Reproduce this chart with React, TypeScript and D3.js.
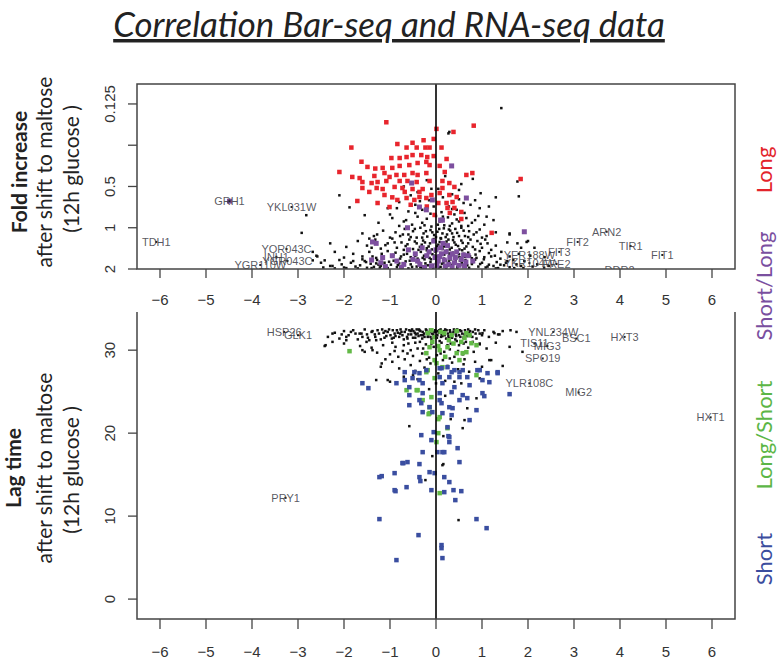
import React from "react";
import * as d3 from "d3";

// ---------- data ----------
const xTicks = [-6, -5, -4, -3, -2, -1, 0, 1, 2, 3, 4, 5, 6];
const topTicks = [0.125, 0.25, 0.5, 1, 2];
const topTickLabels = ["0.125", "", "0.5", "1", "2"];
const botTicks = [0, 10, 20, 30];
const botTickLabels = ["0", "10", "20", "30"];

// top panel: [log2 fold change, fold increase]
const topBlack: [number, number][] = [
  [1.42, 0.134], [0.29, 0.2], [0.27, 0.205], [1.77, 0.46], [1.8, 0.59], [0.97, 0.56], [1.1, 0.83],
  [-2.92, 1.09], [-2.82, 0.81], [-2.1, 0.58], [-1.88, 0.71], [-1.55, 0.81], [-2.68, 1.5], [-2.58, 1.62],
  [-2.42, 1.73], [-2.25, 1.9], [-2.68, 1.73], [1.97, 1.27], [2.14, 1.4], [2.36, 1.64], [1.92, 1.75],
  [1.6, 1.1], [1.77, 1.3],
  [-2.45, 1.95], [-2.3, 1.9], [-2.2, 1.98], [-2.05, 1.85], [-1.95, 1.97], [-1.85, 1.8], [-1.75, 1.92],
  [-1.65, 1.88], [-1.55, 1.75], [-1.5, 1.96], [-1.42, 1.83], [-1.35, 1.93], [-1.28, 1.72], [-1.2, 1.9],
  [-1.12, 1.8], [-1.05, 1.97], [-0.98, 1.86], [-0.92, 1.74], [-0.85, 1.94], [-0.8, 1.82], [-0.72, 1.9],
  [-0.66, 1.76], [-0.6, 1.98], [-0.55, 1.85], [-0.48, 1.72], [-0.42, 1.92], [-0.36, 1.8], [-0.3, 1.95],
  [-0.25, 1.7], [-0.18, 1.88], [-0.12, 1.78], [-0.06, 1.96], [0.0, 1.84], [0.05, 1.73], [0.1, 1.93],
  [0.16, 1.8], [0.22, 1.97], [0.28, 1.76], [0.33, 1.89], [0.4, 1.82], [0.46, 1.95], [0.52, 1.74],
  [0.58, 1.87], [0.65, 1.79], [0.72, 1.96], [0.78, 1.84], [0.85, 1.71], [0.92, 1.92], [1.0, 1.8],
  [1.08, 1.95], [1.15, 1.86], [1.25, 1.9], [1.35, 1.97], [1.48, 1.88], [1.6, 1.94], [1.75, 1.85],
  [1.9, 1.97], [2.1, 1.92], [2.35, 1.96],
  [-2.6, 1.6], [-2.2, 1.5], [-2.0, 1.65], [-1.8, 1.55], [-1.6, 1.62], [-1.45, 1.5], [-1.3, 1.66],
  [-1.18, 1.55], [-1.05, 1.48], [-0.95, 1.63], [-0.88, 1.52], [-0.78, 1.68], [-0.7, 1.57], [-0.62, 1.47],
  [-0.55, 1.64], [-0.47, 1.55], [-0.4, 1.68], [-0.33, 1.5], [-0.26, 1.6], [-0.2, 1.46], [-0.14, 1.66],
  [-0.08, 1.56], [-0.02, 1.49], [0.04, 1.62], [0.1, 1.53], [0.17, 1.68], [0.24, 1.47], [0.3, 1.6],
  [0.37, 1.52], [0.44, 1.66], [0.5, 1.56], [0.57, 1.46], [0.63, 1.63], [0.7, 1.52], [0.78, 1.67],
  [0.86, 1.57], [0.95, 1.48], [1.05, 1.64], [1.15, 1.53], [1.28, 1.6], [1.42, 1.5], [1.6, 1.62],
  [1.8, 1.55], [2.05, 1.6],
  [-2.3, 1.3], [-1.95, 1.38], [-1.7, 1.25], [-1.5, 1.35], [-1.32, 1.22], [-1.2, 1.42], [-1.05, 1.3],
  [-0.95, 1.2], [-0.85, 1.4], [-0.75, 1.28], [-0.66, 1.36], [-0.58, 1.22], [-0.5, 1.43], [-0.42, 1.3],
  [-0.35, 1.38], [-0.28, 1.24], [-0.2, 1.41], [-0.13, 1.3], [-0.05, 1.21], [0.02, 1.37], [0.08, 1.27],
  [0.14, 1.43], [0.2, 1.32], [0.27, 1.22], [0.34, 1.4], [0.4, 1.28], [0.48, 1.36], [0.55, 1.24],
  [0.62, 1.42], [0.7, 1.3], [0.8, 1.38], [0.9, 1.25], [1.0, 1.4], [1.12, 1.3], [1.3, 1.35],
  [1.55, 1.28], [1.85, 1.4], [2.0, 1.25],
  [-1.6, 1.1], [-1.35, 1.15], [-1.15, 1.05], [-1.0, 1.18], [-0.88, 1.08], [-0.78, 1.15], [-0.68, 1.02],
  [-0.6, 1.12], [-0.5, 1.06], [-0.42, 1.18], [-0.34, 1.0], [-0.27, 1.1], [-0.19, 1.16], [-0.12, 1.04],
  [-0.04, 1.13], [0.03, 1.07], [0.1, 1.19], [0.17, 1.01], [0.24, 1.12], [0.31, 1.05], [0.38, 1.17],
  [0.46, 1.09], [0.55, 1.0], [0.63, 1.15], [0.72, 1.06], [0.82, 1.12], [0.95, 1.03], [1.1, 1.15],
  [1.3, 1.08], [1.6, 1.12],
  [-1.25, 0.92], [-0.95, 0.85], [-0.8, 0.97], [-0.65, 0.88], [-0.52, 0.95], [-0.4, 0.83], [-0.3, 0.92],
  [-0.2, 0.86], [-0.1, 0.98], [0.0, 0.82], [0.08, 0.9], [0.18, 0.96], [0.26, 0.84], [0.35, 0.93],
  [0.45, 0.87], [0.55, 0.97], [0.66, 0.85], [0.78, 0.92], [0.92, 0.82], [1.05, 0.95], [1.25, 0.88],
  [-1.05, 0.72], [-0.8, 0.65], [-0.6, 0.76], [-0.45, 0.68], [-0.3, 0.74], [-0.15, 0.63], [-0.05, 0.7],
  [0.12, 0.77], [0.22, 0.66], [0.35, 0.73], [0.5, 0.62], [0.62, 0.78], [0.75, 0.68], [0.95, 0.72],
  [0.6, 0.66], [-0.7, 0.5], [-0.4, 0.55], [-0.2, 0.45], [0.05, 0.52], [0.2, 0.42], [0.35, 0.57],
  [0.55, 0.48], [0.8, 0.44],
  [-1.52, 1.78], [-1.38, 1.62], [-1.25, 1.86], [-1.15, 1.68], [-1.02, 1.77], [-0.93, 1.58], [-0.83, 1.87],
  [-0.76, 1.62], [-0.69, 1.83], [-0.63, 1.55], [-0.57, 1.74], [-0.52, 1.93], [-0.45, 1.6], [-0.39, 1.78],
  [-0.34, 1.94], [-0.29, 1.66], [-0.23, 1.82], [-0.17, 1.52], [-0.11, 1.7], [-0.07, 1.87], [-0.03, 1.6],
  [0.01, 1.76], [0.06, 1.95], [0.09, 1.64], [0.13, 1.83], [0.18, 1.57], [0.21, 1.74], [0.25, 1.9],
  [0.29, 1.54], [0.32, 1.7], [0.36, 1.86], [0.39, 1.6], [0.43, 1.76], [0.47, 1.92], [0.51, 1.64],
  [0.56, 1.8], [0.6, 1.55], [0.64, 1.72], [0.68, 1.88], [0.74, 1.62], [0.8, 1.78], [0.88, 1.66],
  [0.96, 1.84], [1.04, 1.7], [1.12, 1.92], [1.2, 1.62], [1.32, 1.78], [1.4, 1.68], [1.52, 1.8],
  [1.68, 1.72],
  [-1.4, 1.4], [-1.1, 1.34], [-0.9, 1.28], [-0.7, 1.45], [-0.62, 1.32], [-0.46, 1.26], [-0.38, 1.45],
  [-0.31, 1.33], [-0.24, 1.28], [-0.16, 1.37], [-0.09, 1.44], [-0.01, 1.26], [0.05, 1.33], [0.11, 1.2],
  [0.17, 1.37], [0.23, 1.26], [0.3, 1.44], [0.37, 1.23], [0.43, 1.33], [0.51, 1.44], [0.58, 1.29],
  [0.66, 1.37], [0.75, 1.22], [0.85, 1.44], [0.97, 1.31], [1.07, 1.22], [1.2, 1.45], [-1.45, 1.2],
  [-1.28, 1.12], [-0.72, 1.12], [-0.55, 1.17], [-0.46, 1.02], [-0.3, 1.18], [-0.22, 1.06], [-0.08, 1.08],
  [0.0, 1.17], [0.07, 1.02], [0.14, 1.1], [0.21, 1.17], [0.28, 1.03], [0.35, 1.1], [0.42, 1.02],
  [0.5, 1.15], [0.6, 1.05], [0.7, 1.17], [0.88, 1.08], [1.0, 1.18],
  [-1.8, 1.75], [-1.7, 1.98], [-1.6, 1.7], [-1.4, 1.97], [-1.3, 1.82], [-1.22, 1.95], [-2.1, 1.72],
  [-2.5, 1.8], [-2.0, 1.95], [1.3, 1.98], [1.4, 1.86], [1.55, 1.75], [1.7, 1.97], [1.85, 1.9],
  [2.2, 1.85], [2.45, 1.9],
  [-1.0, 0.8], [-0.7, 0.9], [-0.45, 0.78], [-0.25, 0.96], [-0.12, 0.79], [0.04, 0.95], [0.15, 0.83],
  [0.3, 0.97], [0.4, 0.8], [0.5, 0.9], [0.7, 0.97], [0.85, 0.88], [-0.85, 0.72], [-0.35, 0.64],
  [0.28, 0.7], [0.45, 0.74], [0.85, 0.63], [-0.55, 0.58], [0.15, 0.6], [-0.1, 0.52], [0.5, 0.53],
  [1.15, 0.7], [1.3, 0.6],
];

const topRed: [number, number][] = [
  [-1.08, 0.17], [0.82, 0.18], [0.01, 0.19], [0.38, 0.2], [-1.84, 0.26], [-0.84, 0.245], [-0.51, 0.24],
  [-0.27, 0.23], [-0.05, 0.225], [-0.64, 0.26], [-0.42, 0.26], [-0.23, 0.26], [-0.14, 0.26], [0.12, 0.26],
  [-0.32, 0.295], [-0.19, 0.305], [-0.05, 0.3], [-0.97, 0.31], [-0.79, 0.31], [-0.64, 0.305], [-0.51, 0.295],
  [0.23, 0.315], [-1.62, 0.33], [-1.49, 0.36], [-1.32, 0.37], [-1.16, 0.366], [-0.95, 0.366], [-0.79, 0.354],
  [-0.58, 0.349], [-0.4, 0.337], [-0.21, 0.331], [-0.14, 0.349], [0.08, 0.354], [0.19, 0.392], [-2.1, 0.392],
  [-1.82, 0.426], [-1.66, 0.434], [-1.34, 0.419], [-1.12, 0.399], [-1.01, 0.426], [-0.86, 0.412], [-0.69, 0.412],
  [-0.51, 0.399], [-0.4, 0.412], [-0.21, 0.399], [0.66, 0.412], [0.79, 0.399], [1.84, 0.441], [-1.6, 0.464],
  [-1.4, 0.472], [-1.27, 0.464], [-1.08, 0.456], [-0.79, 0.456], [-0.62, 0.456], [-0.42, 0.464], [-0.14, 0.456],
  [0.14, 0.456], [0.29, 0.472], [-1.6, 0.513], [-1.29, 0.513], [-1.16, 0.522], [-0.9, 0.504], [-0.73, 0.513],
  [-0.51, 0.522], [-0.29, 0.522], [0.14, 0.513], [0.4, 0.504], [-1.71, 0.638], [-1.27, 0.66], [-1.01, 0.706],
  [-0.84, 0.627], [-0.64, 0.607], [-0.47, 0.627], [-0.36, 0.597], [-0.21, 0.607], [-0.1, 0.577], [-0.03, 0.807],
  [0.23, 0.66], [0.25, 0.717], [0.36, 0.649], [0.4, 0.717], [0.55, 0.767], [0.55, 0.863], [1.21, 1.09],
  [0.45, 0.597], [-1.45, 0.548], [-1.12, 0.577], [-0.68, 0.548], [-0.36, 0.548], [0.08, 0.558], [0.29, 0.577],
  [-0.95, 0.6], [-0.55, 0.68], [0.05, 0.66], [-0.2, 0.7], [0.3, 0.78],
];

const topPurple: [number, number][] = [
  [-4.49, 0.64], [0.34, 0.354], [-0.53, 0.472], [-0.36, 0.706], [-0.21, 0.74], [0.66, 0.607], [-0.62, 1.0],
  [1.92, 1.07], [0.14, 0.88], [-0.08, 0.627], [0.1, 0.88], [-1.38, 1.27], [-1.16, 1.65],
  [-1.2, 1.8], [-1.1, 1.92], [-0.85, 1.75], [-0.75, 1.95], [-0.5, 1.7], [-0.35, 1.85], [-0.2, 1.6],
  [-0.1, 1.9], [0.0, 1.45], [0.05, 1.75], [0.12, 1.55], [0.2, 1.9], [0.25, 1.35], [0.3, 1.65],
  [0.4, 1.8], [0.45, 1.5], [0.55, 1.7], [0.62, 1.9], [0.7, 1.6], [-0.6, 1.45], [-1.3, 1.3],
  [-0.05, 1.25], [0.15, 1.3], [-0.95, 1.6], [0.35, 1.95], [-1.4, 1.72], [-0.3, 1.4], [0.8, 1.75],
  [-0.4, 1.75], [-0.25, 1.95], [-0.15, 1.5], [0.02, 1.88], [0.08, 1.62], [0.18, 1.72], [0.28, 1.85],
  [0.35, 1.55], [0.5, 1.88], [0.6, 1.58], [0.65, 1.78], [-0.45, 1.55], [-0.7, 1.85], [0.1, 1.4],
  [0.42, 1.65], [-0.02, 1.65], [0.22, 1.5],
];

const topLabelNames = ["TDH1", "GRH1", "YKL031W", "YOR043C", "INH1", "YGR043C", "YGR110W",
  "ARN2", "FIT2", "FIT3", "TIR1", "FIT1", "YER188W", "YKR104W", "FRE2", "DDR2"];
const topLabelX = [-6.08, -4.49, -3.14, -3.25, -3.47, -3.23, -3.82, 3.71, 3.08, 2.68, 4.23, 4.92, 2.03, 2.03, 2.62, 3.99];
const topLabelY = [1.27, 0.64, 0.706, 1.43, 1.63, 1.75, 1.87, 1.07, 1.27, 1.5, 1.36, 1.58, 1.58, 1.81, 1.84, 2.05];

// bottom panel: [log2 fold change, lag time]
const botBlack: [number, number][] = [
  [-2.35, 31.6], [-2.2, 32.1], [-2.1, 31.4], [-2.0, 32.3], [-1.9, 31.8], [-1.8, 32.4], [-1.7, 31.3],
  [-1.62, 32.0], [-1.55, 32.5], [-1.48, 31.5], [-1.4, 32.2], [-1.33, 31.9], [-1.27, 32.4], [-1.2, 31.3],
  [-1.14, 32.1], [-1.08, 31.7], [-1.02, 32.5], [-0.96, 31.4], [-0.9, 32.0], [-0.85, 32.4], [-0.8, 31.6],
  [-0.75, 32.2], [-0.7, 31.3], [-0.65, 32.5], [-0.6, 31.9], [-0.55, 32.3], [-0.5, 31.5], [-0.46, 32.1],
  [-0.42, 32.5], [-0.38, 31.7], [-0.34, 32.3], [-0.3, 31.4], [-0.26, 32.0], [-0.22, 32.5], [-0.18, 31.6],
  [-0.14, 32.2], [-0.1, 31.3], [-0.06, 31.9], [-0.02, 32.4], [0.02, 31.5], [0.06, 32.1], [0.1, 32.5],
  [0.14, 31.7], [0.18, 32.3], [0.22, 31.4], [0.26, 32.0], [0.3, 32.4], [0.34, 31.6], [0.38, 32.2],
  [0.42, 31.3], [0.46, 32.5], [0.5, 31.8], [0.55, 32.3], [0.6, 31.5], [0.65, 32.1], [0.7, 32.5],
  [0.75, 31.7], [0.8, 32.2], [0.88, 31.4], [0.95, 32.0], [1.05, 32.4], [1.15, 31.6], [1.25, 32.2],
  [1.35, 31.9], [1.45, 32.3], [1.62, 32.4],
  [-1.95, 31.2], [-1.75, 32.0], [-1.5, 31.9], [-1.3, 31.2], [-1.1, 32.3], [-0.92, 31.5], [-0.78, 32.0],
  [-0.62, 31.4], [-0.52, 32.5], [-0.44, 31.9], [-0.36, 32.4], [-0.28, 31.8], [-0.2, 32.2], [-0.12, 31.6],
  [-0.04, 32.2], [0.04, 32.3], [0.12, 31.9], [0.2, 32.5], [0.28, 31.5], [0.36, 32.0], [0.44, 31.7],
  [0.52, 32.4], [0.62, 31.9], [0.72, 32.1], [0.85, 32.5], [1.0, 31.8],
  [-2.4, 30.6], [-2.25, 31.0], [-2.0, 30.8], [-1.65, 30.5], [-1.55, 29.8], [-1.4, 30.3], [-1.28, 29.7],
  [-1.15, 30.6], [-1.0, 29.5], [-0.88, 30.4], [-0.72, 29.9], [-0.6, 30.8], [-0.5, 29.3], [-0.4, 30.2],
  [-0.3, 29.6], [-0.22, 30.7], [-0.15, 29.1], [-0.05, 30.4], [0.02, 29.4], [0.12, 30.9], [0.18, 29.8],
  [0.3, 30.1], [0.4, 29.2], [0.5, 30.6], [0.58, 29.5], [0.7, 30.3], [0.82, 29.8], [0.95, 30.7],
  [1.1, 30.2], [1.3, 30.9], [-0.55, 30.0], [-0.82, 29.2], [0.32, 30.8], [0.65, 31.0],
  [-1.2, 28.0], [-0.95, 28.6], [-0.8, 27.8], [-0.68, 28.9], [-0.55, 28.2], [-0.45, 27.5], [-0.35, 28.7],
  [-0.25, 27.9], [-0.12, 28.4], [0.05, 27.2], [0.15, 28.8], [0.25, 28.1], [0.35, 28.5], [0.48, 27.7],
  [0.6, 28.3], [0.72, 27.4], [0.85, 28.6], [1.0, 28.0], [1.2, 28.8], [-1.3, 26.4], [-1.0, 26.2],
  [-0.7, 26.8], [-0.4, 26.5], [0.2, 26.3], [0.55, 26.0], [0.95, 26.6], [-1.1, 28.9],
  [-0.58, 20.84], [0.58, 20.6], [0.16, 19.64], [-0.08, 17.23], [0.16, 16.27], [-0.23, 14.34], [0.49, 9.52],
  [0.62, 21.57], [0.32, 21.69], [0.14, 16.14], [0.68, 23.0], [0.88, 24.2], [-1.05, 26.4],
  [1.01, 32.05], [1.27, 32.05], [1.38, 31.9], [1.75, 32.2], [1.6, 30.4], [1.88, 29.8], [0.95, 30.8],
  [1.16, 28.8], [1.45, 28.1], [-2.42, 30.5], [-2.25, 32.0], [-1.95, 31.6], [-1.66, 32.0], [-1.51, 31.0],
  [-1.38, 30.0], [-1.18, 28.4], [-1.6, 30.0],
  [-1.38, 32.3], [-1.32, 31.6], [-1.24, 32.0], [-1.17, 32.5], [-1.12, 31.5], [-1.05, 32.2], [-0.99, 31.8],
  [-0.94, 32.4], [-0.88, 31.7], [-0.83, 32.1], [-0.77, 32.5], [-0.73, 31.8], [-0.68, 32.2], [-0.63, 31.6],
  [-0.58, 32.4], [-0.54, 31.9], [-0.49, 32.3], [-0.45, 31.5], [-0.4, 32.0], [-0.37, 32.5], [-0.33, 31.8],
  [-0.29, 32.2], [-0.25, 31.6], [-0.21, 32.4], [-0.17, 31.9], [-0.13, 32.5], [-0.09, 32.0], [-0.05, 31.5],
  [-0.01, 32.2], [0.03, 31.8], [0.07, 32.4], [0.11, 31.6], [0.15, 32.1], [0.19, 31.8], [0.23, 32.4],
  [0.27, 31.7], [0.31, 32.2], [0.35, 31.5], [0.39, 32.5], [0.43, 31.9], [0.48, 32.2], [0.53, 31.6],
  [0.57, 32.0], [0.63, 32.4], [0.68, 31.7], [0.74, 32.3], [0.79, 31.6], [0.86, 32.0], [0.92, 32.4],
  [-1.6, 31.6], [-1.85, 32.2], [-2.05, 31.9], [-1.45, 31.2], [-0.95, 30.9], [-0.7, 30.6], [-0.45, 30.9],
  [-0.35, 31.0], [-0.1, 30.8], [0.08, 31.1], [0.25, 30.6], [0.45, 31.1], [0.6, 30.8], [0.8, 31.0],
  [-0.28, 30.2], [-0.62, 29.6], [0.1, 29.6], [0.48, 29.9], [-0.9, 29.9], [-0.2, 28.9], [0.3, 29.0],
  [0.62, 28.9], [-0.5, 27.0], [0.0, 26.0], [0.4, 26.2], [-0.15, 25.3], [0.2, 24.5],
];

const botGreen: [number, number][] = [
  [-0.18, 32.05], [-0.03, 31.57], [0.18, 32.05], [0.34, 31.81], [0.66, 32.05], [0.77, 30.84], [-0.14, 30.36],
  [0.08, 30.0], [0.25, 30.36], [0.45, 29.64], [0.58, 29.64], [-0.21, 29.64], [-0.03, 28.8], [0.14, 27.95],
  [-0.21, 27.35], [-0.03, 26.63], [-0.4, 25.18], [-0.64, 25.18], [-0.1, 24.34], [-0.14, 23.13], [0.73, 31.81],
  [0.88, 30.6], [0.66, 29.76], [0.51, 28.8], [0.01, 28.43], [-0.18, 27.59], [0.88, 26.99], [-0.42, 25.18],
  [-0.29, 23.98], [-0.14, 22.41], [0.08, 21.93], [-0.16, 22.29], [0.05, 21.69], [0.25, 20.6], [0.05, 20.0],
  [0.01, 18.92], [0.08, 12.77], [-1.88, 29.88], [0.1, 32.2], [0.28, 31.2], [0.45, 32.3], [0.55, 31.0],
  [-0.08, 31.0], [0.2, 29.2], [0.38, 30.8], [0.62, 31.5], [0.05, 30.5], [-0.1, 32.4],
];

const botBlue: [number, number][] = [
  [-0.36, 27.23], [-0.21, 27.59], [0.08, 27.83], [0.25, 27.95], [0.4, 27.59], [0.58, 27.59], [0.9, 27.59],
  [1.12, 27.23], [1.34, 27.23], [-0.51, 26.63], [0.08, 26.75], [0.29, 26.75], [0.51, 26.75], [0.68, 26.75],
  [1.01, 26.39], [-0.86, 26.02], [-0.68, 26.39], [-0.29, 26.02], [0.14, 26.02], [0.4, 25.54], [0.73, 25.78],
  [-0.58, 24.58], [-0.29, 24.82], [0.08, 24.82], [0.34, 24.94], [0.58, 24.58], [1.05, 24.46], [1.6, 24.7],
  [-0.58, 23.37], [-0.32, 23.61], [-0.14, 23.13], [0.12, 23.61], [0.36, 23.01], [0.88, 22.77], [-0.29, 22.53],
  [-0.08, 22.53], [0.14, 22.41], [0.34, 22.17], [0.73, 21.57], [0.25, 20.72], [-0.32, 19.76], [-0.1, 19.16],
  [0.29, 19.52], [-0.29, 17.71], [0.03, 17.71], [0.14, 17.71], [0.47, 18.19], [0.51, 16.51], [-0.73, 16.39],
  [-0.62, 16.51], [-0.36, 16.27], [-1.23, 14.7], [-0.9, 15.18], [-0.36, 14.7], [-0.14, 15.3], [-0.03, 15.18],
  [0.18, 14.7], [0.29, 14.1], [-0.9, 13.13], [-0.64, 13.49], [-0.1, 13.13], [0.18, 12.89], [0.38, 13.13],
  [0.55, 13.01], [0.42, 11.93], [-1.23, 9.64], [0.88, 9.64], [1.1, 8.55], [-0.38, 7.71], [0.12, 6.51],
  [0.12, 6.14], [0.14, 4.94], [-0.86, 4.7], [-1.6, 26.02], [-1.47, 25.42], [-1.18, 14.82], [-0.71, 16.39],
  [-0.34, 14.22], [0.18, 17.71], [0.29, 18.92], [0.27, 19.64], [-0.05, 20.12], [-0.88, 13.01],
  [-0.68, 27.35], [-0.47, 27.35], [-0.58, 25.54], [-0.36, 26.39], [0.12, 27.83], [0.34, 27.35], [0.51, 27.35],
  [0.95, 27.59], [1.16, 26.14], [1.34, 27.35], [-0.36, 23.98], [0.08, 23.98], [0.29, 23.13], [0.51, 23.98],
  [0.68, 24.22], [1.01, 24.82],
];

const botLabelNames = ["HSP26", "GLK1", "PRY1", "YNL234W", "BSC1", "HXT3", "TIS11", "MIG3", "SPO19", "YLR108C", "MIG2", "HXT1"];
const botLabelX = [-3.3, -3.0, -3.27, 2.55, 3.05, 4.1, 2.14, 2.42, 2.32, 2.03, 3.1, 5.97];
const botLabelY = [32.2, 31.8, 12.2, 32.2, 31.4, 31.6, 30.8, 30.5, 29.0, 26.0, 24.9, 21.9];

const sideLabels = ["Long", "Short/Long", "Long/Short", "Short"];
const sideColors = ["#e3242b", "#7a4f9f", "#5cb646", "#3b4d9e"];

// ---------- layout ----------
const W = 780, H = 662;
const L = 137, R = 735;
const T1 = 84, B1 = 269;
const T2 = 312, B2 = 619;

const COL_RED = "#e8252d";
const COL_PURPLE = "#7d4f9f";
const COL_GREEN = "#63b947";
const COL_BLUE = "#3a4ea0";
const TEXT_FONT = "Lato, 'Open Sans', sans-serif";
const AXIS_FONT = "'Liberation Sans', Arial, sans-serif";

export default function App() {
  const x = d3.scaleLinear().domain([-6.5, 6.5]).range([L, R]);
  const yTop = d3.scaleLog().base(2).domain([0.0894, 2]).range([T1, B1]);
  const yBot = d3.scaleLinear().domain([-2.4, 34.6]).range([B2, T2]);

  const sq = (pts: [number, number][], ys: any, color: string, s: number, key: string) =>
    pts.map((p, i) => (
      <rect key={key + i} x={x(p[0]) - s / 2} y={ys(p[1]) - s / 2} width={s} height={s} fill={color} />
    ));
  const dots = (pts: [number, number][], ys: any, key: string) =>
    pts.map((p, i) => (
      <rect key={key + i} x={x(p[0]) - 1.25} y={ys(p[1]) - 1.25} width={2.5} height={2.5} fill="#111" />
    ));

  const sideY = [170, 286, 435, 559];
  const fmt = (t: number) => (t < 0 ? "\u2212" + Math.abs(t) : String(t));

  return (
    <svg width={W} height={H} style={{ position: "absolute", left: 0, top: 0, background: "#fff" }}>
      <defs>
        <clipPath id="c1"><rect x={L} y={T1} width={R - L} height={B1 - T1} /></clipPath>
        <clipPath id="c2"><rect x={L} y={T2} width={R - L} height={B2 - T2} /></clipPath>
      </defs>

      {/* title */}
      <text x={389} y={37} textAnchor="middle" fontFamily={TEXT_FONT} fontStyle="italic" fontSize={34.8}
        textDecoration="underline" fill="#222">Correlation Bar-seq and RNA-seq data</text>

      {/* left axis titles */}
      <g fontFamily={TEXT_FONT} fill="#222" fontSize={21} textAnchor="middle">
        <text transform={`translate(27,172) rotate(-90)`} fontWeight="bold">Fold increase</text>
        <text transform={`translate(52,172) rotate(-90)`}>after shift to maltose</text>
        <text transform={`translate(79,169) rotate(-90)`}>(12h glucose )</text>
        <text transform={`translate(21,468) rotate(-90)`} fontWeight="bold">Lag time</text>
        <text transform={`translate(52,468) rotate(-90)`}>after shift to maltose</text>
        <text transform={`translate(79,470) rotate(-90)`}>(12h glucose )</text>
      </g>

      {/* right category labels */}
      {sideLabels.map((s, i) => (
        <text key={s} transform={`translate(772,${sideY[i]}) rotate(-90)`} textAnchor="middle"
          fontFamily={TEXT_FONT} fontSize={22} fill={sideColors[i]}>{s}</text>
      ))}

      {/* top panel points */}
      <g clipPath="url(#c1)">
        {dots(topBlack, yTop, "tb")}
        {sq(topRed, yTop, COL_RED, 4.5, "tr")}
        {sq(topPurple, yTop, COL_PURPLE, 5, "tp")}
        {topLabelNames.map((n, i) => (
          <g key={"tl" + i}>
            <rect x={x(topLabelX[i]) - 1} y={yTop(topLabelY[i]) - 1} width={2} height={2} fill="#222" />
            <text x={x(topLabelX[i])} y={yTop(topLabelY[i])} dy="0.35em" textAnchor="middle"
              fontFamily={AXIS_FONT} fontSize={11} fill="#3a3a44" fillOpacity={0.85}>{n}</text>
          </g>
        ))}
      </g>

      {/* bottom panel points */}
      <g clipPath="url(#c2)">
        {dots(botBlack, yBot, "bb")}
        {sq(botGreen, yBot, COL_GREEN, 4.5, "bg")}
        {sq(botBlue, yBot, COL_BLUE, 4.5, "bl")}
        {botLabelNames.map((n, i) => (
          <g key={"bt" + i}>
            <rect x={x(botLabelX[i]) - 1} y={yBot(botLabelY[i]) - 1} width={2} height={2} fill="#222" />
            <text x={x(botLabelX[i])} y={yBot(botLabelY[i])} dy="0.35em" textAnchor="middle"
              fontFamily={AXIS_FONT} fontSize={11} fill="#3a3a44" fillOpacity={0.85}>{n}</text>
          </g>
        ))}
      </g>

      {/* zero lines */}
      <line x1={x(0)} x2={x(0)} y1={T1} y2={B1} stroke="#000" strokeWidth={1.6} />
      <line x1={x(0)} x2={x(0)} y1={T2} y2={B2} stroke="#000" strokeWidth={1.6} />

      {/* frames */}
      <rect x={L} y={T1} width={R - L} height={B1 - T1} fill="none" stroke="#444" strokeWidth={1.5} />
      <path d={`M${L},${T2}V${B2}H${R}V${T2}`} fill="none" stroke="#444" strokeWidth={1.5} />

      {/* axes */}
      <g fontFamily={AXIS_FONT} fontSize={15} fill="#333">
        {xTicks.map((t) => (
          <g key={"xt" + t}>
            <line x1={x(t)} x2={x(t)} y1={B1} y2={B1 + 9} stroke="#444" strokeWidth={1.3} />
            <text x={x(t)} y={305} textAnchor="middle">{fmt(t)}</text>
            <line x1={x(t)} x2={x(t)} y1={B2} y2={B2 + 10} stroke="#444" strokeWidth={1.3} />
            <text x={x(t)} y={657} textAnchor="middle">{fmt(t)}</text>
          </g>
        ))}
        {topTicks.map((t, i) => (
          <g key={"yt" + i}>
            <line x1={L - 9} x2={L} y1={yTop(t)} y2={yTop(t)} stroke="#444" strokeWidth={1.3} />
            <text transform={`translate(115,${yTop(t)}) rotate(-90)`} textAnchor="middle">{topTickLabels[i]}</text>
          </g>
        ))}
        {botTicks.map((t, i) => (
          <g key={"yb" + i}>
            <line x1={L - 9} x2={L} y1={yBot(t)} y2={yBot(t)} stroke="#444" strokeWidth={1.3} />
            <text transform={`translate(115,${yBot(t)}) rotate(-90)`} textAnchor="middle">{botTickLabels[i]}</text>
          </g>
        ))}
      </g>
    </svg>
  );
}
